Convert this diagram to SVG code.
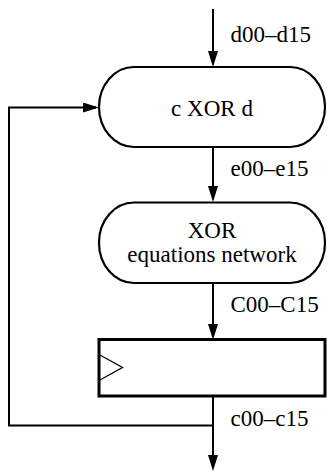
<svg xmlns="http://www.w3.org/2000/svg" width="327" height="471" viewBox="0 0 327 471">
  <style>
    .mid { text-anchor: middle; }
    .node { fill: #fff; stroke: #000; stroke-width: 2.2; }
    .reg { fill: #fff; stroke: #000; stroke-width: 3; }
    .clk { fill: none; stroke: #000; stroke-width: 1.3; }
    .wire { fill: none; stroke: #000; stroke-width: 2; }
  </style>
  <defs>
    <marker id="arrow" markerUnits="userSpaceOnUse" markerWidth="16" markerHeight="10" refX="13" refY="5" orient="auto">
      <path d="M0,0 L16,5 L0,10 z" fill="#000"/>
    </marker>
  </defs>
  <rect width="327" height="471" fill="#fff"/>

  <!-- connectors -->
  <g id="connectors">
    <path class="wire" d="M213,9 V64" marker-end="url(#arrow)"/>
    <path class="wire" d="M213,147 V199" marker-end="url(#arrow)"/>
    <path class="wire" d="M213,283 V337" marker-end="url(#arrow)"/>
    <path class="wire" d="M213,396 V468" marker-end="url(#arrow)"/>
    <path class="wire" d="M213,425.5 H9 V107.5 H96" marker-end="url(#arrow)"/>
  </g>

  <g font-family="Liberation Serif, Times New Roman, serif" font-size="23" fill="#000">
    <!-- bus labels -->
    <g id="labels">
      <text x="230.5" y="42">d00–d15</text>
      <text x="230.5" y="176">e00–e15</text>
      <text x="230.5" y="312">C00–C15</text>
      <text x="230.5" y="426">c00–c15</text>
    </g>

    <!-- combiner -->
    <g id="xor_cd">
      <rect class="node" x="99" y="67" width="226" height="80" rx="35" ry="40"/>
      <text class="mid" x="212" y="116">c XOR d</text>
    </g>

    <!-- equation network -->
    <g id="xor_net">
      <rect class="node" x="99" y="202.5" width="226" height="80.5" rx="35" ry="40"/>
      <text class="mid" x="212" y="238">XOR</text>
      <text class="mid" x="212" y="262">equations network</text>
    </g>
  </g>

  <!-- register -->
  <g id="register">
    <rect class="reg" x="99" y="339.5" width="226" height="56.5"/>
    <path class="clk" d="M99,354.5 L122.5,367.5 L99,380.5"/>
  </g>
</svg>
